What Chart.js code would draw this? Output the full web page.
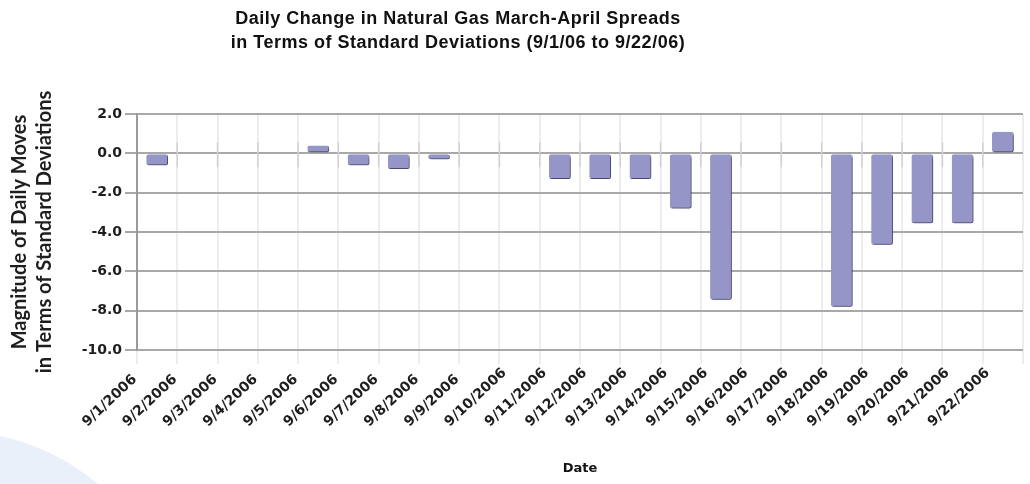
<!DOCTYPE html>
<html>
<head>
<meta charset="utf-8">
<title>Natural Gas March-April Spreads</title>
<script src="https://cdn.jsdelivr.net/npm/chart.js@4.4.0/dist/chart.umd.min.js"></script>
<style>
  html, body { margin: 0; padding: 0; background: #fff; }
  #wrap { width: 1030px; height: 484px; }
</style>
</head>
<body>
<div id="wrap"><canvas id="spread-chart" width="1030" height="484"></canvas></div>
<script>
const dates = ['9/1/2006', '9/2/2006', '9/3/2006', '9/4/2006', '9/5/2006', '9/6/2006',
  '9/7/2006', '9/8/2006', '9/9/2006', '9/10/2006', '9/11/2006', '9/12/2006', '9/13/2006',
  '9/14/2006', '9/15/2006', '9/16/2006', '9/17/2006', '9/18/2006', '9/19/2006',
  '9/20/2006', '9/21/2006', '9/22/2006'];
// daily move in std deviations, null = no trading that day
const stdMoves = [-0.6, null, null, null, 0.4, -0.6, -0.8, -0.3, null, null, -1.3, -1.3,
  -1.3, -2.8, -7.45, null, null, -7.8, -4.65, -3.55, -3.55, 1.1];
const yTicks = [2, 0, -2, -4, -6, -8, -10];
const titleLines = ['Daily Change in Natural Gas March-April Spreads',
  'in Terms of Standard Deviations (9/1/06 to 9/22/06)'];
const yTitle = ['Magnitude of Daily Moves', 'in Terms of Standard Deviations'];
const xTitle = 'Date';

// pale blue swoosh in the bottom left corner
const backdrop = {
  id: 'backdrop',
  beforeDraw(chart) {
    const ctx = chart.ctx;
    ctx.save();
    ctx.fillStyle = '#e9f0f9';
    ctx.beginPath();
    ctx.moveTo(0, 436);
    ctx.quadraticCurveTo(55, 448, 98, chart.height);
    ctx.lineTo(0, chart.height);
    ctx.closePath();
    ctx.fill();
    ctx.restore();
  }
};

// small ticks where the category lines cross zero
const zeroTicks = {
  id: 'zeroTicks',
  beforeDatasetsDraw(chart) {
    const ctx = chart.ctx;
    const xs = chart.scales.x;
    const y0 = chart.scales.y.getPixelForValue(0);
    const half = (xs.getPixelForValue(1) - xs.getPixelForValue(0)) / 2;
    ctx.save();
    ctx.strokeStyle = '#d2d2d2';
    ctx.lineWidth = 1.5;
    for (let i = 1; i < dates.length; i++) {
      const px = xs.getPixelForValue(i) - half;
      ctx.beginPath();
      ctx.moveTo(px, y0 - 11);
      ctx.lineTo(px, y0 + 14);
      ctx.stroke();
    }
    ctx.restore();
  }
};

// drop shadow on the bars
const barShadow = {
  id: 'barShadow',
  beforeDatasetsDraw(chart) {
    const ctx = chart.ctx;
    ctx.save();
    ctx.shadowColor = 'rgba(45, 45, 80, 0.6)';
    ctx.shadowOffsetX = 2;
    ctx.shadowOffsetY = 3;
    ctx.shadowBlur = 2;
  },
  afterDatasetsDraw(chart) {
    chart.ctx.restore();
  }
};

// date labels start at the bottom and run up to the right
const dateLabels = {
  id: 'dateLabels',
  afterDraw(chart) {
    const ctx = chart.ctx;
    const xs = chart.scales.x;
    ctx.save();
    ctx.font = 'bold 14px "DejaVu Sans"';
    ctx.fillStyle = '#1e1e1e';
    ctx.textAlign = 'left';
    ctx.textBaseline = 'alphabetic';
    dates.forEach((d, i) => {
      ctx.save();
      ctx.translate(xs.getPixelForValue(i) - 70, xs.top + 77);
      ctx.rotate(-43 * Math.PI / 180);
      ctx.fillText(d, 0, 0);
      ctx.restore();
    });
    ctx.restore();
  }
};

const chartTitle = {
  id: 'chartTitle',
  afterDraw(chart) {
    const ctx = chart.ctx;
    ctx.save();
    ctx.font = 'bold 18px "Liberation Sans", Arial, sans-serif';
    ctx.letterSpacing = '0.5px';
    ctx.fillStyle = '#111';
    ctx.textAlign = 'center';
    ctx.textBaseline = 'middle';
    ctx.fillText(titleLines[0], 458, 19);
    ctx.fillText(titleLines[1], 458, 43);
    ctx.restore();
  }
};

const ctx = document.getElementById('spread-chart').getContext('2d');
new Chart(ctx, {
  type: 'bar',
  data: {
    labels: dates,
    datasets: [{
      data: stdMoves,
      backgroundColor: '#9595c8',
      borderColor: '#6f6fa0',
      borderWidth: { top: 0, left: 0, right: 1, bottom: 1 },
      borderSkipped: false,
      borderRadius: 2,
      barPercentage: 0.54,
      categoryPercentage: 1
    }]
  },
  options: {
    responsive: false,
    animation: false,
    layout: { padding: { top: 114, right: 7, left: 0, bottom: 0 } },
    plugins: {
      legend: { display: false },
      tooltip: { enabled: false },
      title: { display: false }
    },
    scales: {
      x: {
        offset: true,
        grid: { offset: true, color: '#ededed', lineWidth: 2, tickLength: 14 },
        border: { display: false },
        ticks: { display: false },
        title: {
          display: true,
          text: xTitle,
          color: '#111',
          font: { family: 'DejaVu Sans', size: 13, weight: 'bold' },
          padding: { top: 0, bottom: 8 }
        },
        afterFit: s => { s.height = 134; }
      },
      y: {
        min: -10,
        max: 2,
        afterBuildTicks: s => { s.ticks = yTicks.map(v => ({ value: v })); },
        grid: { color: '#a8a8a8', lineWidth: 2, tickLength: 12 },
        border: { color: '#9a9a9a', width: 2 },
        ticks: {
          callback: v => v.toFixed(1),
          color: '#1e1e1e',
          padding: 3,
          font: { family: 'DejaVu Sans', size: 14, weight: 'bold' }
        },
        title: {
          display: true,
          text: yTitle,
          color: '#1e1e1e',
          font: { family: 'Lato', size: 20, weight: 'bold', lineHeight: 1.25 },
          padding: { top: 7.5, bottom: 0 }
        },
        afterFit: s => { s.width = 137; }
      }
    }
  },
  plugins: [backdrop, zeroTicks, barShadow, dateLabels, chartTitle]
});
</script>
</body>
</html>
